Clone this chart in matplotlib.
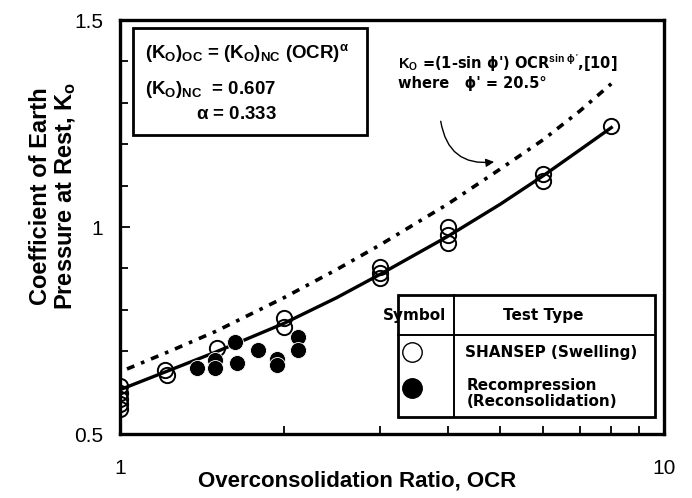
import matplotlib
matplotlib.use("Agg")
import matplotlib.pyplot as plt
from matplotlib.patches import Rectangle
from matplotlib.ticker import FixedLocator, NullFormatter

plt.rcParams['font.family'] = ['Liberation Sans', 'DejaVu Sans']
plt.rcParams['mathtext.fontset'] = 'custom'
plt.rcParams['mathtext.rm'] = 'Liberation Sans:bold'
plt.rcParams['mathtext.it'] = 'Liberation Sans:bold'
plt.rcParams['mathtext.bf'] = 'Liberation Sans:bold'

# SHANSEP (swelling) test results - open circles
shansep_ocr = [1.0, 1.0, 1.0, 1.0, 1.0, 1.21, 1.22, 1.51, 2.0, 2.0,
               3.0, 3.0, 3.0, 4.0, 4.0, 4.0, 6.0, 6.0, 8.0]
shansep_k = [0.615, 0.600, 0.585, 0.572, 0.560, 0.655, 0.643, 0.708, 0.780, 0.758,
             0.903, 0.890, 0.877, 1.000, 0.980, 0.962, 1.127, 1.110, 1.245]

# Recompression (reconsolidation) results - filled circles
recomp_ocr = [1.385, 1.495, 1.495, 1.63, 1.64, 1.79, 1.94, 1.94, 2.12, 2.12]
recomp_k = [0.659, 0.679, 0.659, 0.722, 0.672, 0.703, 0.681, 0.667, 0.734, 0.703]

# fitted curve (solid) and reference curve (dotted)
fit_ocr = [1.0, 1.25, 1.5, 2.0, 2.5, 3.0, 4.0, 5.0, 6.0, 7.0, 8.0]
fit_k = [0.607, 0.657, 0.698, 0.767, 0.829, 0.885, 0.977, 1.055, 1.124, 1.186, 1.240]
mk_ocr = [1.03, 1.25, 1.5, 2.0, 2.5, 3.0, 4.0, 5.0, 6.0, 7.0, 8.0]
mk_k = [0.657, 0.703, 0.748, 0.829, 0.897, 0.956, 1.055, 1.140, 1.211, 1.280, 1.346]

fig = plt.figure(figsize=(6.92, 4.98), dpi=100)
ax = fig.add_axes([120 / 692, 1 - 434 / 498, 544 / 692, 414 / 498])

ax.plot(mk_ocr, mk_k, color='black', lw=2.6, linestyle=(0, (2.2, 2.0, 1.0, 2.0)), zorder=2)
ax.plot(fit_ocr, fit_k, color='black', lw=2.4, zorder=3)
ax.plot(shansep_ocr, shansep_k, 'o', ms=11, mfc='none', mec='black', mew=1.4, zorder=4)
ax.plot(recomp_ocr, recomp_k, 'o', ms=11.5, mfc='black', mec='white', mew=0.6, zorder=5)

ax.set_xscale('log')
ax.set_xlim(1, 10)
ax.set_ylim(0.5, 1.5)
ax.xaxis.set_major_locator(FixedLocator([1, 10]))
ax.xaxis.set_minor_locator(FixedLocator([2, 3, 4, 5, 6, 7, 8, 9]))
ax.xaxis.set_minor_formatter(NullFormatter())
ax.set_xticklabels(['1', '10'])
ax.set_yticks([0.5, 1.0, 1.5])
ax.set_yticklabels(['0.5', '1', '1.5'])
ax.yaxis.set_minor_locator(FixedLocator([0.6, 0.7, 0.8, 0.9, 1.1, 1.2, 1.3, 1.4]))
ax.tick_params(which='both', direction='in', width=1.3, labelsize=15)
ax.tick_params(axis='x', pad=18)
ax.tick_params(axis='y', pad=12)
ax.tick_params(which='major', length=7)
ax.tick_params(which='minor', length=6)
for s in ax.spines.values():
    s.set_linewidth(2.4)

ax.set_xlabel('Overconsolidation Ratio, OCR', fontsize=16, fontweight='bold')
ax.xaxis.set_label_coords(0.436, -0.088)
ax.set_ylabel('Coefficient of Earth\nPressure at Rest, K$_\\mathregular{o}$',
              fontsize=17, fontweight='bold', linespacing=1.05)
ax.yaxis.set_label_coords(-0.078, 0.575)

# equation box (upper left)
ax.add_patch(Rectangle((0.024, 0.722), 0.430, 0.259, transform=ax.transAxes,
                       fill=False, lw=2.0, ec='black', zorder=6))
ax.text(0.046, 0.920, r'$(K_O)_{OC}$ = $(K_O)_{NC}$ (OCR)$^{\alpha}$', transform=ax.transAxes,
        fontsize=13.5, fontweight='bold', va='center')
ax.text(0.046, 0.831, r'$(K_O)_{NC}$  = 0.607', transform=ax.transAxes,
        fontsize=13.5, fontweight='bold', va='center')
ax.text(0.140, 0.771, r'$\alpha$ = 0.333', transform=ax.transAxes,
        fontsize=13.5, fontweight='bold', va='center')

# reference curve note with arrow
ax.text(0.511, 0.896, r"$K_O$ =(1-sin ϕ') OCR$^{\mathrm{sin}\ \phi'}$,[10]",
        transform=ax.transAxes, fontsize=10.5, fontweight='bold', va='center',
        family=['DejaVu Sans'])
ax.text(0.511, 0.846, "where   ϕ' = 20.5°", transform=ax.transAxes,
        fontsize=10.5, fontweight='bold', va='center', family=['DejaVu Sans'])
ax.annotate('', xy=(4.93, 1.158), xytext=(3.88, 1.262),
            arrowprops=dict(arrowstyle='-|>', color='black', lw=1.0, mutation_scale=12,
                            connectionstyle='arc3,rad=0.5'))

# symbol table (lower right)
tl, tr, tt, tb = 0.511, 0.983, 0.336, 0.041
ax.add_patch(Rectangle((tl, tb), tr - tl, tt - tb, transform=ax.transAxes,
                       fc='white', ec='black', lw=2.0, zorder=6))
ax.plot([tl, tr], [0.239, 0.239], transform=ax.transAxes, color='black', lw=1.4, zorder=7)
ax.plot([0.614, 0.614], [tb, tt], transform=ax.transAxes, color='black', lw=1.4, zorder=7)
ax.text(0.542, 0.287, 'Symbol', transform=ax.transAxes, ha='center', va='center',
        fontsize=11, fontweight='bold', family=['DejaVu Sans'], zorder=8)
ax.text(0.778, 0.287, 'Test Type', transform=ax.transAxes, ha='center', va='center',
        fontsize=11, fontweight='bold', family=['DejaVu Sans'], zorder=8)
ax.plot([0.537], [0.198], 'o', transform=ax.transAxes, ms=14, mfc='white', mec='black',
        mew=1.0, zorder=8, clip_on=False)
ax.plot([0.537], [0.111], 'o', transform=ax.transAxes, ms=14, mfc='black', mec='black',
        zorder=8, clip_on=False)
ax.text(0.634, 0.198, 'SHANSEP (Swelling)', transform=ax.transAxes, va='center',
        fontsize=11, fontweight='bold', family=['DejaVu Sans'], zorder=8)
ax.text(0.638, 0.097, 'Recompression\n(Reconsolidation)', transform=ax.transAxes,
        va='center', fontsize=11, fontweight='bold', family=['DejaVu Sans'],
        linespacing=1.1, zorder=8)

fig.savefig('out.png', dpi=100)
